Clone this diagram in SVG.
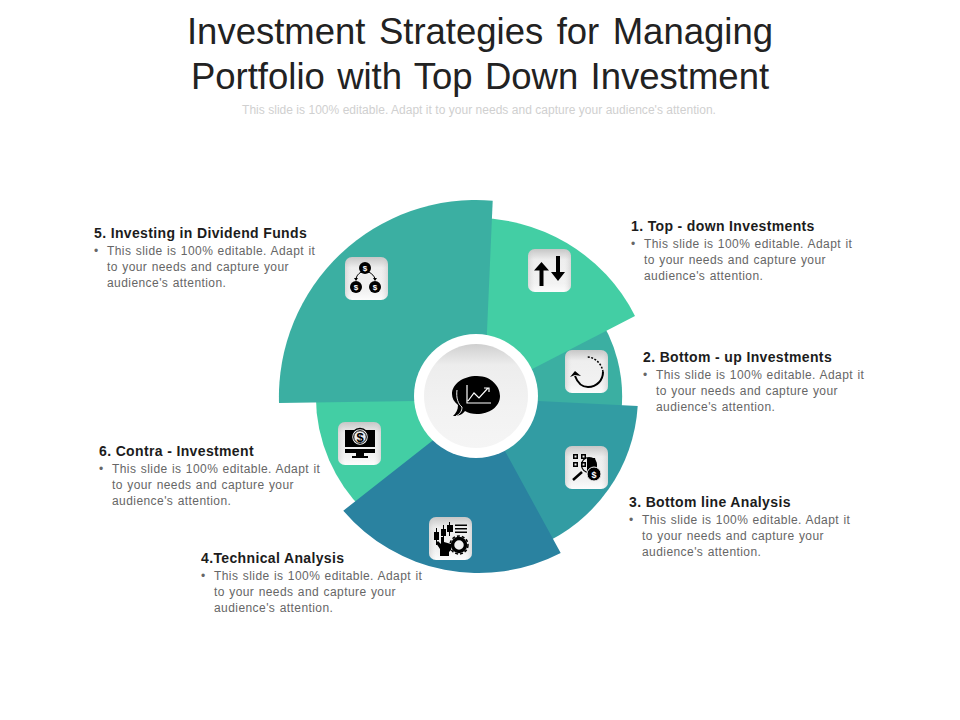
<svg xmlns="http://www.w3.org/2000/svg" width="960" height="720" viewBox="0 0 960 720">
<style>
text{font-family:"Liberation Sans",Arial,sans-serif}
.t{font-size:36.500px;fill:#222;text-anchor:middle}
.s{font-size:12px;fill:#d0d0d0;text-anchor:middle;letter-spacing:.03px}
.h{font-size:14px;font-weight:bold;fill:#1c1c1c;letter-spacing:.36px}
.b{font-size:12px;fill:#666;letter-spacing:.43px;word-spacing:.6px}
.k{fill:#000;stroke:none}
.l{fill:none;stroke:#000;stroke-width:2}
</style>
<defs>
<linearGradient id="g" x1="0" y1="0" x2="0" y2="1"><stop offset="0" stop-color="#c6c6c6"/><stop offset=".25" stop-color="#eeeeee"/><stop offset=".8" stop-color="#f2f2f2"/><stop offset="1" stop-color="#fcfcfc"/></linearGradient>
<linearGradient id="gs" x1="0" y1="0" x2="1" y2="0"><stop offset="0" stop-color="#bbb" stop-opacity=".45"/><stop offset=".16" stop-color="#ddd" stop-opacity="0"/><stop offset=".84" stop-color="#ddd" stop-opacity="0"/><stop offset="1" stop-color="#bbb" stop-opacity=".45"/></linearGradient>
<linearGradient id="c" x1="0" y1="0" x2="0" y2="1"><stop offset="0" stop-color="#cfcfcf"/><stop offset=".2" stop-color="#ededed"/><stop offset=".6" stop-color="#f2f2f2"/><stop offset="1" stop-color="#f5f5f5"/></linearGradient>
<g id="tile"><rect width="43" height="43" rx="7" fill="url(#g)"/><rect width="43" height="43" rx="7" fill="url(#gs)"/></g>
<g id="coin"><circle r="6" class="k"/><text y="3" font-size="8" font-weight="bold" fill="#fff" text-anchor="middle">$</text></g>
</defs>
<g id="header">
<text class="t" x="480" y="44" word-spacing="3.300">Investment Strategies for Managing</text>
<text class="t" x="480" y="89" word-spacing="2.200">Portfolio with Top Down Investment</text>
<text class="s" x="479" y="114">This slide is 100% editable. Adapt it to your needs and capture your audience's attention.</text>
</g>
<g id="connectors"></g>
<g id="wheel">
<path id="sector2" fill="#3bafa2" d="M476 396L596 313A146 146 0 0 1 621.5 410Z"/>
<path id="sector1" fill="#43cea4" d="M476 398L635 316A178 178 0 0 0 470 218.2Z"/>
<path id="sector3" fill="#329ca3" d="M476 398L637.7 406A162 162 0 0 1 540 545Z"/>
<path id="sector6" fill="#43cea4" d="M476 396L316 390A160 160 0 0 0 372 518Z"/>
<path id="sector5" fill="#3bafa2" d="M484 400L492.7 200.7A197 197 0 0 0 279 403Z"/>
<path id="sector4" fill="#2a82a0" d="M476 406.5L343.3 510.7A178 178 0 0 0 560.7 553L476 398Z"/>
</g>
<g id="center">
<circle cx="476" cy="396" r="62" fill="#fff"/>
<circle cx="476" cy="396" r="52" fill="url(#c)"/>
<path class="k" d="M477 376C492 376 500 387 500 396C500 407 489 414 477 414C472 414 468 413 465 411C463 414 459 416 453 416C456 413 458 410 458 405C454 402 452 398 452 394C452 384 463 376 477 376Z"/>
<path d="M457 390C456 398 458 404 462 407C462 411 460 414 456 416" fill="none" stroke="#f2f2f2" stroke-width="1"/>
<path d="M467 385V403H491M468 401L474 393L479 398L488 388M484 388H489V392" fill="none" stroke="#fff" stroke-width="1.200"/>
</g>
<g id="node1">
<use href="#tile" x="528" y="249"/>
<path class="k" d="M541.500 262L549 270.500H543.500V286H539.500V270.500H534ZM556 256H560V272H565L558 281L551 272H556Z"/>
<text class="h" x="631" y="231">1. Top - down Investments</text>
<text class="b"><tspan x="631" y="248">•</tspan><tspan x="644" y="248">This slide is 100% editable. Adapt it</tspan><tspan x="644" y="264">to your needs and capture your</tspan><tspan x="644" y="280">audience's attention.</tspan></text>
</g>
<g id="node2">
<use href="#tile" x="565" y="350"/>
<path class="l" d="M575 376C578 384 583 387 588 387C597 387 603 380 603 372"/>
<path fill="none" stroke="#000" stroke-width="1.500" stroke-dasharray="2 1.500" d="M603 372C602 364 595 357 587 357"/>
<path class="k" d="M570 377L575 371L581 376L575 375Z"/>
<text class="h" x="643" y="362">2. Bottom - up Investments</text>
<text class="b"><tspan x="643" y="379">•</tspan><tspan x="656" y="379">This slide is 100% editable. Adapt it</tspan><tspan x="656" y="395">to your needs and capture your</tspan><tspan x="656" y="411">audience's attention.</tspan></text>
</g>
<g id="node3">
<use href="#tile" x="565" y="446"/>
<path class="k" fill-rule="evenodd" d="M573 454H578V459H573ZM574.500 455.500V457.500H576.500V455.500ZM581 454H586V459H581ZM582.500 455.500V457.500H584.500V455.500ZM573 462H578V467H573ZM574.500 463.500V465.500H576.500V463.500ZM581 462H586V467H581ZM582.500 463.500V465.500H584.500V463.500Z"/>
<circle cx="589" cy="465" r="7.500" fill="none" stroke="#000" stroke-width="1.200"/>
<path class="k" d="M587 458H595L597 467L589 471H587Z"/>
<path d="M582 472L573 480" fill="none" stroke="#000" stroke-width="2.500"/>
<circle cx="594" cy="474" r="7" fill="#000" stroke="#f2f2f2"/>
<text x="594" y="478" font-size="9" font-weight="bold" fill="#fff" text-anchor="middle">$</text>
<text class="h" x="629" y="507">3. Bottom line Analysis</text>
<text class="b"><tspan x="629" y="524">•</tspan><tspan x="642" y="524">This slide is 100% editable. Adapt it</tspan><tspan x="642" y="540">to your needs and capture your</tspan><tspan x="642" y="556">audience's attention.</tspan></text>
</g>
<g id="node4">
<use href="#tile" x="429" y="517"/>
<path class="k" d="M436 528H437V532H439V540H437V545H436V540H434V532H436ZM443 525H444V529H446V536H444V540H443V536H441V529H443ZM449 522H450V525H453V532H450V536H449V532H447V525H449Z"/>
<path class="k" d="M455 524.500H467V526H455ZM455 528H467V529.500H455ZM455 531.500H467V533H455Z"/>
<path class="k" d="M440 556V549L436 543L438 541L441 544V537H444V542L451 544V550L449 552V556Z"/>
<circle cx="459" cy="545" r="6.500" fill="none" stroke="#000" stroke-width="3.500"/>
<circle cx="459" cy="545" r="9" fill="none" stroke="#000" stroke-width="1.500" stroke-dasharray="3 2"/>
<text class="h" x="201" y="563">4.Technical Analysis</text>
<text class="b"><tspan x="201" y="580">•</tspan><tspan x="214" y="580">This slide is 100% editable. Adapt it</tspan><tspan x="214" y="596">to your needs and capture your</tspan><tspan x="214" y="612">audience's attention.</tspan></text>
</g>
<g id="node5">
<use href="#tile" x="345" y="257"/>
<use href="#coin" x="365" y="268"/>
<use href="#coin" x="356" y="287"/>
<use href="#coin" x="375" y="287"/>
<path fill="none" stroke="#000" stroke-width="1" d="M361 272C358 274 356.500 276 356 279M369 272C372 274 374.500 276 375 279"/>
<path class="k" d="M354 278H358L356 281ZM373 278H377L375 281Z"/>
<text class="h" x="94" y="238">5. Investing in Dividend Funds</text>
<text class="b"><tspan x="94" y="255">•</tspan><tspan x="107" y="255">This slide is 100% editable. Adapt it</tspan><tspan x="107" y="271">to your needs and capture your</tspan><tspan x="107" y="287">audience's attention.</tspan></text>
</g>
<g id="node6">
<use href="#tile" x="338" y="422"/>
<path class="k" d="M345 430H375V447H345ZM345 449H375V453H345ZM356 453H364V456H368V458H352V456H356Z"/>
<circle cx="360" cy="437" r="8.500" fill="#eee" stroke="#000" stroke-width="1.500"/>
<circle cx="360" cy="437" r="6.300" fill="none" stroke="#000" stroke-width="1"/>
<text x="360" y="442" font-size="13" font-weight="bold" fill="#000" text-anchor="middle">$</text>
<text class="h" x="99" y="456">6. Contra - Investment</text>
<text class="b"><tspan x="99" y="473">•</tspan><tspan x="112" y="473">This slide is 100% editable. Adapt it</tspan><tspan x="112" y="489">to your needs and capture your</tspan><tspan x="112" y="505">audience's attention.</tspan></text>
</g>
</svg>
